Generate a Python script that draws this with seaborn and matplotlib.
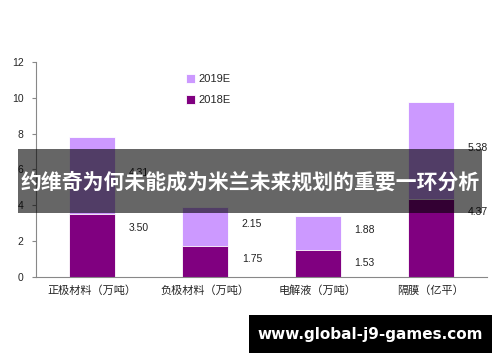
import numpy as np
import pandas as pd
import seaborn as sns
import matplotlib.pyplot as plt
from matplotlib.patches import Rectangle

# data
categories = ["正极材料（万吨）", "负极材料（万吨）", "电解液（万吨）", "隔膜（亿平）"]
val_2018 = [3.50, 1.75, 1.53, 4.37]
val_2019 = [4.31, 2.15, 1.88, 5.38]
y_ticks = [0, 2, 4, 6, 8, 10, 12]

c2018 = "#800080"
c2019 = "#CC99FF"

sns.set_style("white")
plt.rcParams["font.family"] = ["Liberation Sans", "Noto Sans CJK SC", "DejaVu Sans"]

df = pd.DataFrame({"cat": categories, "y2018": val_2018, "y2019": val_2019})
df["total"] = df["y2018"] + df["y2019"]

fig = plt.figure(figsize=(5, 3.62), dpi=100)
ax = fig.add_axes([0.072, 0.235, 0.902, 0.594])

sns.barplot(data=df, x="cat", y="total", color=c2019, width=0.41, saturation=1,
            label="2019E", ax=ax, edgecolor="white", linewidth=0.6)
sns.barplot(data=df, x="cat", y="y2018", color=c2018, width=0.41, saturation=1,
            label="2018E", ax=ax, edgecolor="white", linewidth=0.6)

# value labels to the right of each bar segment
for i, row in df.iterrows():
    ax.text(i + 0.415, row["y2018"] - 0.75, f"{row['y2018']:.2f}",
            ha="center", va="center", fontsize=7.5, color="#222222")
    ax.text(i + 0.415, row["y2018"] + row["y2019"] / 2 + 0.15, f"{row['y2019']:.2f}",
            ha="center", va="center", fontsize=7.5, color="#222222")

ax.set_ylim(0, 12)
ax.set_xlim(-0.5, 3.5)
ax.set_yticks(y_ticks)
ax.set_xlabel("")
ax.set_ylabel("")
ax.set_xticks(np.arange(len(categories)) + 0.5, minor=True)
ax.tick_params(axis="x", which="major", length=0, labelsize=8, pad=6)
ax.tick_params(axis="x", which="minor", length=4, color="#888888", direction="out")
ax.tick_params(axis="y", length=3, color="#888888", labelsize=7.5, left=True, pad=6)
for s in ["top", "right"]:
    ax.spines[s].set_visible(False)
for s in ["left", "bottom"]:
    ax.spines[s].set_color("#888888")
    ax.spines[s].set_linewidth(0.8)

h, l = ax.get_legend_handles_labels()
ax.legend(h, l, loc="upper left", bbox_to_anchor=(0.31, 0.99), frameon=False,
          fontsize=8, handlelength=0.8, handleheight=0.8, handletextpad=0.3,
          labelspacing=1.0)

# overlay band with title
fig.patches.append(Rectangle((18 / 500, 1 - 213 / 362), 464 / 500, 64 / 362,
                             transform=fig.transFigure, facecolor="black",
                             alpha=0.6, edgecolor="none", zorder=5))
fig.text(0.5, 1 - 182 / 362, "约维奇为何未能成为米兰未来规划的重要一环分析",
         ha="center", va="center", color="white", fontsize=15, fontweight="bold",
         family=["Noto Sans CJK SC", "DejaVu Sans"], zorder=6)

# watermark
fig.patches.append(Rectangle((249 / 500, 1 - 353 / 362), 243 / 500, 38 / 362,
                             transform=fig.transFigure, facecolor="black",
                             edgecolor="none", zorder=5))
fig.text(370 / 500, 1 - 334 / 362, "www.global-j9-games.com", ha="center",
         va="center", color="white", fontsize=11, fontweight="bold",
         family="DejaVu Sans", zorder=6)

fig.savefig("out.png", dpi=100)
